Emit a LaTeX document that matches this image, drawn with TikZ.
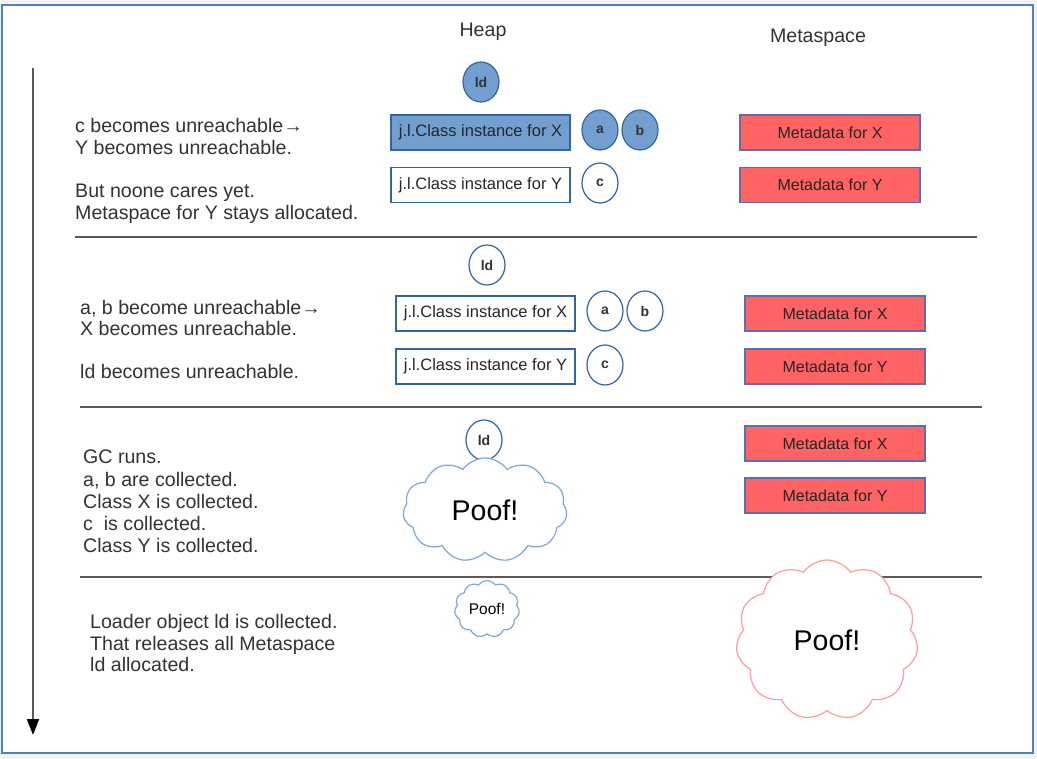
\documentclass[tikz,border=0pt]{standalone}
\usepackage{fontspec}
\setmainfont{Liberation Sans}
\usetikzlibrary{shapes.geometric,shapes.symbols,arrows.meta}
\definecolor{bgout}{HTML}{F2F2EE}
\definecolor{frameblue}{HTML}{4F81C7}
\definecolor{objfill}{HTML}{729FCF}
\definecolor{objline}{HTML}{3465A4}
\definecolor{metafill}{HTML}{FF6363}
\definecolor{metaline}{HTML}{5B6FB0}
\definecolor{txt}{HTML}{333333}
\definecolor{sepgray}{HTML}{5A5A5A}
\definecolor{redcloud}{HTML}{FF9C9C}
\definecolor{bluecloud}{HTML}{7FA6D6}
\begin{document}
\begin{tikzpicture}[x=1pt,y=-1pt,
 desc/.style={anchor=base west, inner sep=0, text=txt, font=\fontsize{19.6}{22}\selectfont},
 title/.style={inner sep=0, text=txt, font=\fontsize{19.6}{22}\selectfont},
 classbox/.style={draw=objline, line width=1.2, minimum width=179, minimum height=35, inner sep=0, font=\fontsize{16.5}{18}\selectfont, text=black!85},
 live/.style={fill=objfill},
 dead/.style={fill=white},
 obj/.style={ellipse, draw=objline, line width=1.2, minimum width=36, minimum height=40, inner sep=0, font=\bfseries\fontsize{14}{15}\selectfont, text=black!80},
 metabox/.style={draw=metaline, line width=1.2, fill=metafill, minimum width=180, minimum height=35, inner sep=0, font=\fontsize{16}{18}\selectfont, text=black!85},
 sep/.style={draw=sepgray, line width=2},
 poof/.style={cloud, cloud puffs=11, cloud puff arc=110, line width=1.2, inner sep=0, fill=white, text=black}
]
\fill[bgout] (0,0) rectangle (1037,759);
\draw[draw=frameblue, line width=1.5, fill=white] (2,5) rectangle (1033,753);
\useasboundingbox (0,0) rectangle (1037,759);

% titles
\node[title] (heap) at (483,32) {Heap};
\node[title] (meta) at (818,38) {Metaspace};

% time arrow
\coordinate (atop) at (33,68);
\coordinate (abot) at (33,735);
\draw[line width=2, draw=gray!70!black, -{Triangle[width=12pt,length=16pt,black]}] (atop) -- (abot);

% separators
\coordinate (s1a) at (75,237); \coordinate (s1b) at (977,237);
\coordinate (s2a) at (80,407); \coordinate (s2b) at (982,407);
\coordinate (s3a) at (80,577); \coordinate (s3b) at (982,577);
\draw[sep] (s1a) -- (s1b);
\draw[sep] (s2a) -- (s2b);

% ---------- section 1
\node[desc] (t11) at (75,133) {c becomes unreachable→};
\node[desc] (t12) at (75,155) {Y becomes unreachable.};
\node[desc] (t13) at (75,198) {But noone cares yet.};
\node[desc] (t14) at (75,220) {Metaspace for Y stays allocated.};
\node[obj, live] (ld1) at (481,82) {ld};
\node[classbox, live] (cx1) at (480.5,132.5) {j.l.Class instance for X};
\node[classbox, dead] (cy1) at (480.5,185) {j.l.Class instance for Y};
\node[obj, live] (a1) at (600,130) {a};
\node[obj, live] (b1) at (640,130) {b};
\node[obj, dead] (c1) at (600,183) {c};
\node[metabox] (mx1) at (830,132.5) {Metadata for X};
\node[metabox] (my1) at (830,185) {Metadata for Y};

% ---------- section 2
\node[desc] (t21) at (80,315) {a, b become unreachable→};
\node[desc] (t22) at (80,336) {X becomes unreachable.};
\node[desc] (t23) at (80,379) {ld becomes unreachable.};
\node[obj, dead] (ld2) at (487,265) {ld};
\node[classbox, dead] (cx2) at (485.5,313.5) {j.l.Class instance for X};
\node[classbox, dead] (cy2) at (485.5,366.5) {j.l.Class instance for Y};
\node[obj, dead] (a2) at (605,311) {a};
\node[obj, dead] (b2) at (645,311) {b};
\node[obj, dead] (c2) at (605,365) {c};
\node[metabox] (mx2) at (835,313.5) {Metadata for X};
\node[metabox] (my2) at (835,366.5) {Metadata for Y};

% ---------- section 3
\node[desc] (t31) at (83,464) {GC runs.};
\node[desc] (t32) at (83,486) {a, b are collected.};
\node[desc] (t33) at (83,508) {Class X is collected.};
\node[desc] (t34) at (83,530) {c\ \ is collected.};
\node[desc] (t35) at (83,552) {Class Y is collected.};
\node[obj, dead] (ld3) at (484,440) {ld};
\node[poof, draw=bluecloud, minimum width=164, minimum height=100, font=\fontsize{28.5}{30}\selectfont] (cl3) at (485,510) {Poof!};
\node[metabox] (mx3) at (835,443.5) {Metadata for X};
\node[metabox] (my3) at (835,495.5) {Metadata for Y};

% ---------- section 4
\draw[sep] (s3a) -- (s3b);
\node[desc] (t41) at (90,628) {Loader object ld is collected.};
\node[desc] (t42) at (90,650) {That releases all Metaspace};
\node[desc] (t43) at (90,671) {ld allocated.};
\node[poof, draw=bluecloud, minimum width=65, minimum height=50, font=\fontsize{15.5}{17}\selectfont] (cl4) at (487,609) {Poof!};
\node[poof, draw=redcloud, minimum width=182, minimum height=160, font=\fontsize{28.5}{30}\selectfont] (cl5) at (827,640) {Poof!};
\end{tikzpicture}
\end{document}
